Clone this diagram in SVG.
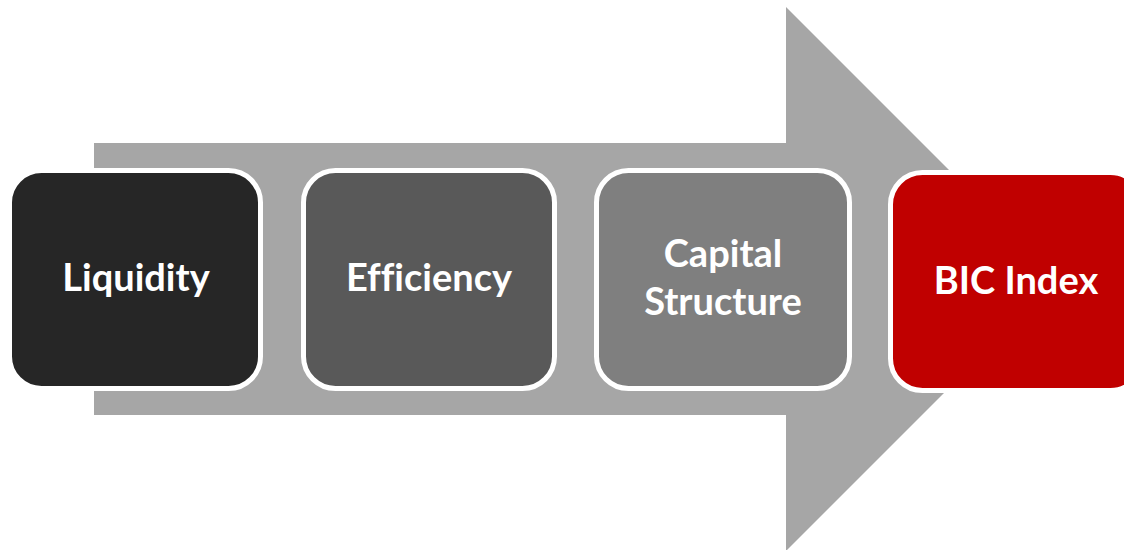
<svg xmlns="http://www.w3.org/2000/svg" width="1124" height="550" viewBox="0 0 1124 550">
  <style>
    .box { stroke: #ffffff; stroke-width: 5; }
    .label { font-family: Lato, "Open Sans", "Liberation Sans", sans-serif; font-weight: 700; font-size: 38px; fill: #ffffff; text-anchor: middle; font-variant-ligatures: none; }
  </style>
  <rect x="0" y="0" width="1124" height="550" fill="#ffffff"/>
  <!-- wide background arrow -->
  <g id="connectors">
    <polygon points="94,143 786,143 786,7 1058,279 786,551 786,415 94,415" fill="#a6a6a6"/>
  </g>
  <g id="node-liquidity">
    <rect class="box" x="9.5" y="170.5" width="251" height="218" rx="32" fill="#262626"/>
    <text class="label" x="136" y="291">Liquidity</text>
  </g>
  <g id="node-efficiency">
    <rect class="box" x="303.5" y="170.5" width="251" height="218" rx="32" fill="#595959"/>
    <text class="label" x="429" y="291">Efficiency</text>
  </g>
  <g id="node-capital-structure">
    <rect class="box" x="596.5" y="170.5" width="253" height="218" rx="32" fill="#7f7f7f"/>
    <text class="label" x="723" y="267">Capital</text>
    <text class="label" x="723" y="315">Structure</text>
  </g>
  <g id="node-bic-index">
    <rect class="box" x="890.5" y="172.5" width="252" height="218" rx="32" fill="#c00000"/>
    <text class="label" x="1016" y="294">BIC Index</text>
  </g>
</svg>
